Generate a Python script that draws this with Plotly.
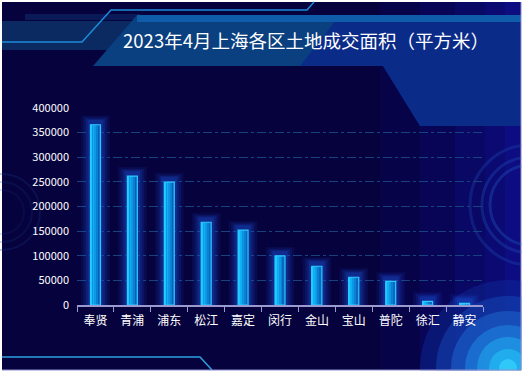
import plotly.graph_objects as go

# ---- data ----
districts = ["奉贤", "青浦", "浦东", "松江", "嘉定", "闵行", "金山", "宝山", "普陀", "徐汇", "静安"]
areas = [366000, 261700, 249500, 168000, 152000, 99600, 78700, 56300, 48100, 7500, 3500]
y_ticks = [0, 50000, 100000, 150000, 200000, 250000, 300000, 350000, 400000]
title_text = "2023年4月上海各区土地成交面积（平方米）"

W, H = 524, 373
L, R, T, B = 77, 483, 108, 305


def X(px):
    return (px - L) / (R - L)


def Y(py):
    return (B - py) / (B - T)


def poly(points):
    return "M " + " L ".join(f"{X(x):.5f},{Y(y):.5f}" for x, y in points) + " Z"


def line_path(points):
    return "M " + " L ".join(f"{X(x):.5f},{Y(y):.5f}" for x, y in points)


shapes = []
# frame / base background
shapes.append(dict(type="rect", xref="paper", yref="paper", x0=X(2), x1=X(521), y0=Y(370), y1=Y(2),
                   fillcolor="#06023d", line=dict(width=0), layer="below"))
# right side bluish gradient
for x0, op in [(380, 0.12), (420, 0.15), (455, 0.18), (485, 0.22), (505, 0.25)]:
    shapes.append(dict(type="rect", xref="paper", yref="paper", x0=X(x0), x1=X(521), y0=Y(370), y1=Y(2),
                       fillcolor="#1414a8", opacity=op, line=dict(width=0), layer="below"))
# left horizontal bands
shapes.append(dict(type="rect", xref="paper", yref="paper", x0=X(2), x1=X(140), y0=Y(50), y1=Y(21),
                   fillcolor="#0b2a62", line=dict(width=0), layer="below"))
shapes.append(dict(type="rect", xref="paper", yref="paper", x0=X(25), x1=X(140), y0=Y(20), y1=Y(14),
                   fillcolor="#0a1a58", line=dict(width=0), layer="below"))
# title banner
shapes.append(dict(type="path", xref="paper", yref="paper",
                   path=poly([(93, 66), (137, 15), (521, 15), (521, 126), (420, 126), (383, 66)]),
                   fillcolor="#0a3f80", line=dict(width=0), layer="below"))
shapes.append(dict(type="path", xref="paper", yref="paper",
                   path=poly([(300, 66), (340, 15), (521, 15), (521, 126), (420, 126), (383, 66)]),
                   fillcolor="#0c1c90", opacity=0.55, line=dict(width=0), layer="below"))
shapes.append(dict(type="rect", xref="paper", yref="paper", x0=X(137), x1=X(521), y0=Y(22), y1=Y(15),
                   fillcolor="#0f5cab", line=dict(width=0), layer="below"))
# decorative lines
shapes.append(dict(type="path", xref="paper", yref="paper",
                   path=line_path([(2, 42), (82, 42), (111, 10), (307, 10), (314, 2)]),
                   line=dict(color="#1c8ad8", width=1.5), layer="below"))
shapes.append(dict(type="path", xref="paper", yref="paper",
                   path=line_path([(2, 357), (200, 357), (212, 370)]),
                   line=dict(color="#2aa0e0", width=1.5), layer="below"))
# left faint circles
for r, op in [(38, 0.25), (30, 0.2), (22, 0.15)]:
    shapes.append(dict(type="circle", xref="paper", yref="paper", x0=X(2 - r), x1=X(2 + r),
                       y0=Y(212 + r), y1=Y(212 - r), line=dict(color="#1e3c8c", width=2), opacity=op,
                       layer="below"))
# right faint circles
for r, op in [(60, 0.3), (48, 0.35), (40, 0.4)]:
    shapes.append(dict(type="circle", xref="paper", yref="paper", x0=X(530 - r), x1=X(530 + r),
                       y0=Y(205 + r), y1=Y(205 - r), line=dict(color="#2050b8", width=3), opacity=op,
                       layer="below"))
# bottom-right bright circles
for r, col, op in [(88, "#1030a0", 0.4), (72, "#1448b8", 0.5), (57, "#1a60c8", 0.6), (43, "#1c7ad8", 0.7),
                   (31, "#1e96e4", 0.8), (19, "#22b0ee", 0.9), (9, "#30c8f8", 1.0)]:
    shapes.append(dict(type="circle", xref="paper", yref="paper", x0=X(508 - r), x1=X(508 + r),
                       y0=Y(368 + r), y1=Y(368 - r), fillcolor=col, opacity=op, line=dict(width=0),
                       layer="below"))
# cover outside of frame (right/bottom) with white, then frame lines
shapes.append(dict(type="rect", xref="paper", yref="paper", x0=X(521.5), x1=X(540), y0=Y(390), y1=Y(-5),
                   fillcolor="white", line=dict(width=0), layer="below"))
shapes.append(dict(type="rect", xref="paper", yref="paper", x0=X(-5), x1=X(540), y0=Y(390), y1=Y(370.5),
                   fillcolor="white", line=dict(width=0), layer="below"))
shapes.append(dict(type="line", xref="paper", yref="paper", x0=X(521), x1=X(521), y0=Y(370), y1=Y(2),
                   line=dict(color="#8c8cd0", width=1), layer="below"))
shapes.append(dict(type="line", xref="paper", yref="paper", x0=X(2), x1=X(521), y0=Y(370), y1=Y(370),
                   line=dict(color="#8c8cd0", width=1), layer="below"))

fig = go.Figure()

pad = 400000 * 9 / (B - T)  # glow padding above bars (≈9px)
# glow layers
for w, op in [(0.78, 0.10), (0.64, 0.14), (0.52, 0.18), (0.42, 0.25)]:
    fig.add_trace(go.Bar(x=districts, y=[v + pad * w / 0.78 for v in areas], width=w,
                         marker=dict(color="#1c50d8", line=dict(width=0)), opacity=op,
                         hoverinfo="skip", showlegend=False))

# gradient bar slices
bw = 0.27
cols = ["#18c8ff", "#10b0f4", "#0c98e6", "#0a80d4", "#0a68be"]
n = len(cols)
for i, c in enumerate(cols):
    fig.add_trace(go.Bar(x=districts, y=areas, width=bw / n, offset=-bw / 2 + i * bw / n,
                         marker=dict(color=c, line=dict(width=0)), hoverinfo="skip", showlegend=False))
# outline
fig.add_trace(go.Bar(x=districts, y=areas, width=bw,
                     marker=dict(color="rgba(0,0,0,0)", line=dict(color="#2ccaff", width=1.2)),
                     showlegend=False, name="成交面积"))

fig.update_layout(
    width=W, height=H,
    margin=dict(l=L, r=W - R, t=T, b=H - B, pad=0),
    paper_bgcolor="white",
    plot_bgcolor="rgba(0,0,0,0)",
    barmode="overlay",
    shapes=shapes,
    font=dict(family="Noto Sans CJK SC, DejaVu Sans", color="white", size=11),
    title=dict(text=title_text, xref="container", x=306 / W, xanchor="center",
               yref="container", y=1 - 42 / H, yanchor="middle",
               font=dict(size=18.5, color="white", family="Noto Sans CJK SC")),
    xaxis=dict(showgrid=False, showline=True, linecolor="#9a9ad0", linewidth=1.5,
               ticks="outside", tickson="boundaries", ticklen=5, tickcolor="#9a9ad0",
               tickfont=dict(size=12, color="white"), ticklabelstandoff=4, zeroline=False),
    yaxis=dict(range=[0, 400000], tickvals=y_ticks, showgrid=True, gridcolor="#17427e",
               griddash="dashdot", gridwidth=1, zeroline=False, showline=False,
               tickfont=dict(size=11, color="white"), ticklabelstandoff=7, tickformat="d"),
)

fig.write_html("out.html", config={"displayModeBar": False},
               post_script="document.body.style.margin='0';document.body.style.padding='0';")
